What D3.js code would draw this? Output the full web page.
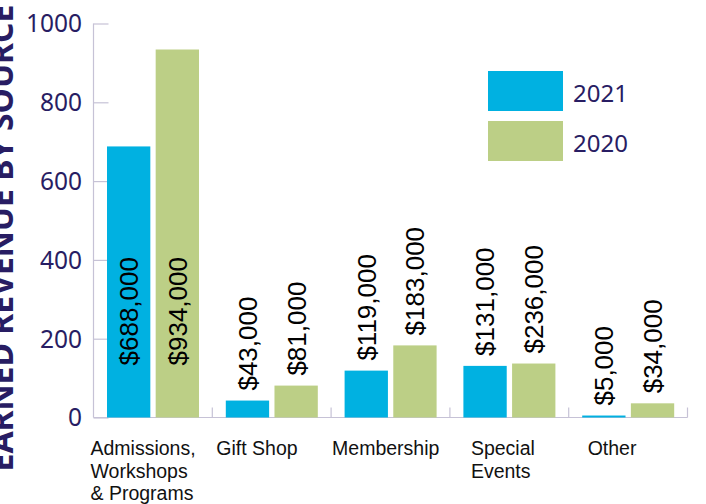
<!DOCTYPE html>
<html>
<head>
<meta charset="utf-8">
<script src="https://cdn.jsdelivr.net/npm/d3@7"></script>
<style>
  body { margin: 0; background: #fff; }
  svg { display: block; }
</style>
</head>
<body>
<div id="chart"></div>
<script>
// Data (thousands of dollars, as drawn)
const categories = [
  ['Admissions,', 'Workshops', '& Programs'],
  ['Gift Shop'],
  ['Membership'],
  ['Special', 'Events'],
  ['Other']
];
const series = ['2021', '2020'];
const values2021 = [688, 43, 119, 131, 5];
const values2020 = [934, 81, 183, 137, 36];
const labels2021 = ['$688,000', '$43,000', '$119,000', '$131,000', '$5,000'];
const labels2020 = ['$934,000', '$81,000', '$183,000', '$236,000', '$34,000'];
const yTicks = [0, 200, 400, 600, 800, 1000];

const colors = {'2021': '#00b1e1', '2020': '#bccf86'};
const navy = '#281d63';
const axisColor = '#c6c2d6';
// nudges for the category text, as placed in the original
const catLabelDx = [-3, 4, 1, 21, 19];

const width = 706, height = 504;
const svg = d3.select('#chart').append('svg')
    .attr('width', width)
    .attr('height', height);

const x0 = d3.scaleBand()
    .domain(d3.range(categories.length))
    .range([93.5, 687.5])
    .padding(0);

const x1 = d3.scaleBand()
    .domain(series)
    .range([13.5, 105.5])
    .paddingInner(0.11);

const y = d3.scaleLinear()
    .domain([0, 1000])
    .range([417.5, 23.5]);

// y axis: line + inward ticks
const yAxis = svg.append('g')
    .attr('transform', `translate(${x0.range()[0]},0)`)
    .call(d3.axisRight(y).tickValues(yTicks).tickSize(15).tickFormat(''));
yAxis.select('.domain').attr('stroke', axisColor).attr('stroke-width', 1.2)
    .attr('d', `M0,${y(1000)}V${y(0)}`);
yAxis.selectAll('.tick line').attr('stroke', axisColor).attr('stroke-width', 1.2);

svg.append('g').selectAll('text')
    .data(yTicks)
  .join('text')
    .attr('x', 82)
    .attr('y', d => y(d))
    .attr('dy', '0.36em')
    .attr('text-anchor', 'end')
    .attr('font-family', 'Noto Sans, sans-serif')
    .attr('font-size', 24.5)
    .attr('fill', navy)
    .text(d => d);

// x axis baseline and category separators
const xg = svg.append('g');
xg.append('line')
    .attr('x1', x0.range()[0]).attr('x2', x0.range()[1])
    .attr('y1', y(0)).attr('y2', y(0))
    .attr('stroke', axisColor).attr('stroke-width', 1.2);
xg.selectAll('.sep')
    .data(d3.range(1, categories.length + 1))
  .join('line')
    .attr('class', 'sep')
    .attr('x1', i => x0.range()[0] + i * x0.step())
    .attr('x2', i => x0.range()[0] + i * x0.step())
    .attr('y1', y(0)).attr('y2', y(0) - 10)
    .attr('stroke', axisColor).attr('stroke-width', 1.2);

// bars
const rows = categories.map((c, i) => ({
  i,
  bars: [
    {key: '2021', value: values2021[i], label: labels2021[i]},
    {key: '2020', value: values2020[i], label: labels2020[i]}
  ]
}));

const groups = svg.append('g').selectAll('g')
    .data(rows)
  .join('g')
    .attr('transform', d => `translate(${x0(d.i)},0)`);

groups.selectAll('rect')
    .data(d => d.bars)
  .join('rect')
    .attr('x', d => x1(d.key))
    .attr('y', d => y(d.value))
    .attr('width', x1.bandwidth())
    .attr('height', d => y(0) - y(d.value))
    .attr('fill', d => colors[d.key]);

// value labels, rotated; the tall first pair sits inside the bars
groups.selectAll('text')
    .data(d => d.bars)
  .join('text')
    .attr('transform', d => {
      const cx = x1(d.key) + x1.bandwidth() / 2;
      const cy = d.value > 500 ? y(0) - 52 : y(d.value) - 10;
      return `translate(${cx},${cy}) rotate(-90)`;
    })
    .attr('dy', '0.36em')
    .attr('font-family', 'Liberation Sans, Arial, sans-serif')
    .attr('font-size', 26)
    .attr('fill', '#000')
    .text(d => d.label);

// category labels
svg.append('g').selectAll('text')
    .data(categories)
  .join('text')
    .attr('x', (d, i) => x0(i) + catLabelDx[i])
    .attr('y', 455)
    .attr('font-family', 'Liberation Sans, Arial, sans-serif')
    .attr('font-size', 19.5)
    .attr('fill', '#111')
  .selectAll('tspan')
    .data(d => d)
  .join('tspan')
    .attr('x', function() { return this.parentNode.getAttribute('x'); })
    .attr('dy', (d, j) => j === 0 ? 0 : 22.5)
    .text(d => d);

// y axis title, partly off the left edge like the original
svg.append('text')
    .attr('transform', 'translate(13,238) rotate(-90)')
    .attr('text-anchor', 'middle')
    .attr('font-family', 'Noto Sans, sans-serif')
    .attr('font-weight', 'bold')
    .attr('font-size', 32)
    .attr('fill', navy)
    .text('EARNED REVENUE BY SOURCE');

// legend
const legend = svg.append('g').selectAll('g')
    .data(series)
  .join('g')
    .attr('transform', (d, i) => `translate(488,${71 + i * 50})`);
legend.append('rect')
    .attr('width', 75)
    .attr('height', 40)
    .attr('fill', d => colors[d]);
legend.append('text')
    .attr('x', 85)
    .attr('y', 31)
    .attr('font-family', 'Noto Sans, sans-serif')
    .attr('font-size', 24)
    .attr('fill', navy)
    .text(d => d);
</script>
</body>
</html>
